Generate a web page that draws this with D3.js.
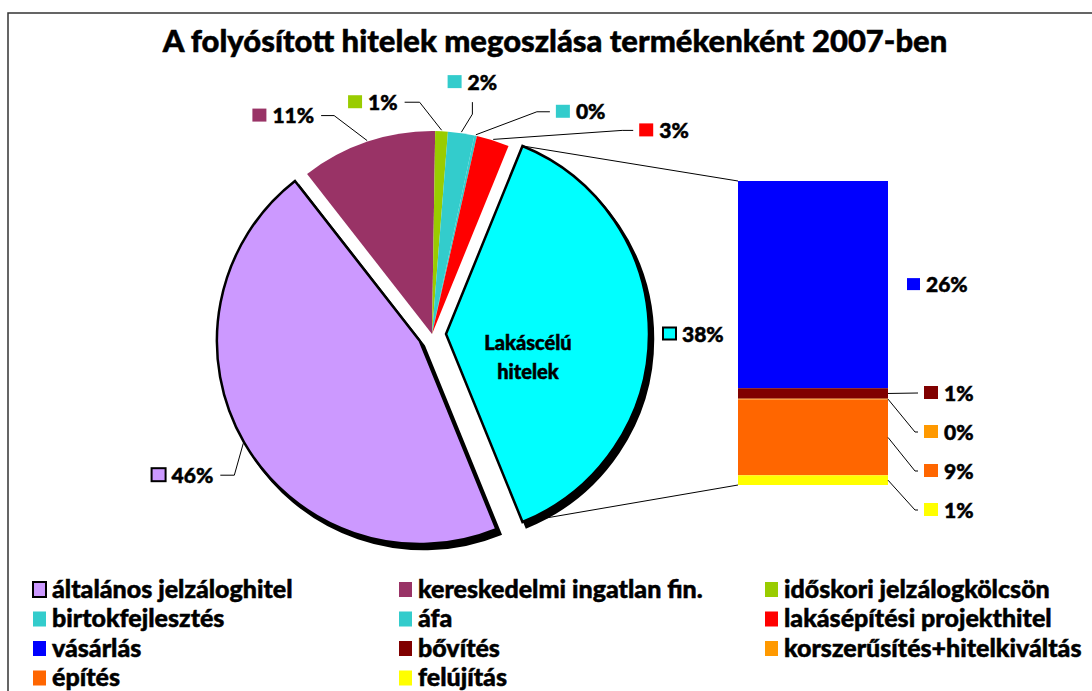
<!DOCTYPE html>
<html>
<head>
<meta charset="utf-8">
<script src="https://cdn.jsdelivr.net/npm/d3@7/dist/d3.min.js"></script>
<style>
  body { margin: 0; background: #fff; }
  svg { display: block; font-family: Lato, "DejaVu Sans", sans-serif; font-weight: 900; }
  svg text { stroke: #000; stroke-width: 0.5; paint-order: stroke; }
</style>
</head>
<body>
<div id="chart"></div>
<script>
// pie slices (rest of the housing slice is broken out in the bar)
const pieCategories = ['általános jelzáloghitel', 'kereskedelmi ingatlan fin.', 'időskori jelzálogkölcsön',
  'birtokfejlesztés', 'áfa', 'lakásépítési projekthitel'];
const pieValues = [45.6, 10.8, 1.0, 2.1, 0.2, 2.6];
const pieColors = ['#CC99FF', '#993366', '#99CC00', '#33CCCC', '#33CCCC', '#FF0000'];

const housingName = 'Lakáscélú hitelek';
const housingColor = '#00FFFF';

const barCategories = ['vásárlás', 'bővítés', 'korszerűsítés+hitelkiváltás', 'építés', 'felújítás'];
const barValues = [25.7, 1.3, 0.1, 9.4, 1.2];
const barColors = ['#0000FF', '#800000', '#FF9900', '#FF6600', '#FFFF00'];

const legendOrder = ['általános jelzáloghitel', 'kereskedelmi ingatlan fin.', 'időskori jelzálogkölcsön',
  'birtokfejlesztés', 'áfa', 'lakásépítési projekthitel',
  'vásárlás', 'bővítés', 'korszerűsítés+hitelkiváltás',
  'építés', 'felújítás'];

const title = 'A folyósított hitelek megoszlása termékenként 2007-ben';

// layout
const W = 1092, H = 691;
const cx = 432, cy = 334, R = 203, explode = 14;
const pct = v => Math.round(v) + '%';

// leader line offsets from the slice anchor: elbow, then end
const pieLabelLayout = [
  { elbow: [-9, 32], end: [-23, 32], side: 'left' },
  { elbow: [-33, -25], end: [-46, -25], side: 'left' },
  { elbow: [-22, -28], end: [-37, -28], side: 'left' },
  { elbow: [11, -18], end: [11, -30], side: 'top' },
  { elbow: [61, -23], end: [74, -23], side: 'right' },
  { elbow: [129, -9], end: [140, -9], side: 'right' }
];
const barLabelY = [null, 393, 432, 471, 510];

const svg = d3.select('#chart').append('svg')
  .attr('width', W)
  .attr('height', H);

svg.append('rect')
  .attr('x', 8).attr('y', 13)
  .attr('width', 1120).attr('height', 720)
  .attr('fill', '#fff')
  .attr('stroke', '#333')
  .attr('stroke-width', 1.5);

svg.append('text')
  .text(title)
  .attr('x', 555).attr('y', 41)
  .attr('dy', '0.35em')
  .attr('text-anchor', 'middle')
  .attr('font-size', 31);

// pie
const housingTotal = d3.sum(barValues);
const total = housingTotal + d3.sum(pieValues);
const start = Math.PI / 2 - (housingTotal / total) * Math.PI;

const sliceData = [{ name: housingName, value: housingTotal, color: housingColor, housing: true }]
  .concat(pieCategories.map((c, i) => ({ name: c, value: pieValues[i], color: pieColors[i], idx: i })));

const pie = d3.pie()
  .value(d => d.value)
  .sort(null)
  .startAngle(start)
  .endAngle(start + 2 * Math.PI);

const arc = d3.arc().innerRadius(0).outerRadius(R);
const arcs = pie(sliceData);

function offsetOf(d) {
  if (!(d.data.housing || d.data.idx === 0)) return [0, 0];
  const mid = (d.startAngle + d.endAngle) / 2;
  return [Math.sin(mid) * explode, -Math.cos(mid) * explode];
}
const outlined = d => d.data.housing || d.data.idx === 0;

const pieG = svg.append('g').attr('transform', `translate(${cx},${cy})`);

// shadows
pieG.selectAll('path.shadow')
  .data(arcs.filter(outlined))
  .enter().append('path')
  .attr('class', 'shadow')
  .attr('d', arc)
  .attr('fill', '#000')
  .attr('stroke', '#000')
  .attr('stroke-width', 2.5)
  .attr('transform', d => {
    const o = offsetOf(d);
    return `translate(${o[0] + 4},${o[1] + 5})`;
  });

pieG.selectAll('path.slice')
  .data(arcs)
  .enter().append('path')
  .attr('class', 'slice')
  .attr('d', arc)
  .attr('fill', d => d.data.color)
  .attr('stroke', d => outlined(d) ? '#000' : 'none')
  .attr('stroke-width', 2.5)
  .attr('stroke-linejoin', 'miter')
  .attr('transform', d => `translate(${offsetOf(d)})`);

function anchorOf(d, r) {
  const mid = (d.startAngle + d.endAngle) / 2;
  const o = offsetOf(d);
  return [cx + o[0] + Math.sin(mid) * r, cy + o[1] - Math.cos(mid) * r];
}

// label: square key + percent text
function drawLabel(x, y, txt, color, side, boxed, sq) {
  sq = sq || 14;
  const g = svg.append('g');
  const t = g.append('text')
    .text(txt)
    .attr('font-size', 21)
    .attr('dy', '0.36em');
  const tw = t.node().getComputedTextLength();
  let sx;
  if (side === 'left') sx = x - 7 - tw - 6 - sq;
  else if (side === 'top') { sx = x - (sq + 6 + tw) / 2; y = y - 20; }
  else sx = x + 6;
  g.insert('rect', 'text')
    .attr('x', sx).attr('y', y - sq / 2)
    .attr('width', sq).attr('height', sq - 1)
    .attr('fill', color)
    .attr('stroke', boxed ? '#000' : 'none')
    .attr('stroke-width', 2);
  t.attr('x', sx + sq + 6).attr('y', y);
}

const lineGen = d3.line();

arcs.filter(d => !d.data.housing).forEach(d => {
  const L = pieLabelLayout[d.data.idx];
  const a = anchorOf(d, R + 1);
  const pts = [a, [a[0] + L.elbow[0], a[1] + L.elbow[1]], [a[0] + L.end[0], a[1] + L.end[1]]];
  svg.append('path')
    .attr('d', lineGen(pts))
    .attr('fill', 'none')
    .attr('stroke', '#000')
    .attr('stroke-width', 1);
  drawLabel(pts[2][0], pts[2][1], pct(d.data.value), d.data.color, L.side, d.data.idx === 0);
});

// housing slice label + inner name
const hArc = arcs.find(d => d.data.housing);
const ha = anchorOf(hArc, R);
drawLabel(ha[0] + 8, ha[1], pct(hArc.data.value), housingColor, 'right', true, 13);

const nameWords = ['Lakáscélú', 'hitelek'];
svg.append('text')
  .attr('x', 528).attr('y', 343)
  .attr('text-anchor', 'middle')
  .attr('font-size', 20)
  .selectAll('tspan')
  .data(nameWords)
  .enter().append('tspan')
  .attr('x', 528)
  .attr('dy', (d, i) => i === 0 ? '0.35em' : '1.45em')
  .text(d => d);

// bar of pie
const barX = 738, barW = 150, barTop = 181, barBottom = 485;
const y = d3.scaleLinear().domain([0, housingTotal]).range([barTop, barBottom]);
const stacked = [];
let acc = 0;
barValues.forEach((v, i) => {
  stacked.push({ name: barCategories[i], value: v, color: barColors[i], y0: acc, y1: acc + v });
  acc += v;
});

svg.selectAll('rect.seg')
  .data(stacked)
  .enter().append('rect')
  .attr('class', 'seg')
  .attr('x', barX)
  .attr('y', d => y(d.y0))
  .attr('width', barW)
  .attr('height', d => y(d.y1) - y(d.y0))
  .attr('fill', d => d.color);

// connector lines pie -> bar
const hOff = offsetOf(hArc);
const topCorner = [cx + hOff[0] + Math.sin(hArc.startAngle) * R, cy + hOff[1] - Math.cos(hArc.startAngle) * R];
const botCorner = [cx + hOff[0] + Math.sin(hArc.endAngle) * R, cy + hOff[1] - Math.cos(hArc.endAngle) * R];
svg.append('path')
  .attr('d', lineGen([topCorner, [barX, y(0)]]))
  .attr('stroke', '#000').attr('stroke-width', 1).attr('fill', 'none');
svg.append('path')
  .attr('d', lineGen([botCorner, [barX, y(housingTotal)]]))
  .attr('stroke', '#000').attr('stroke-width', 1).attr('fill', 'none');

stacked.forEach((d, i) => {
  const mid = y((d.y0 + d.y1) / 2);
  const bx = barX + barW;
  if (barLabelY[i] === null) {
    drawLabel(bx + 13, mid, pct(d.value), d.color, 'right', false, 13);
    return;
  }
  const ly = barLabelY[i];
  const pts = Math.abs(ly - mid) < 2
    ? [[bx, mid], [bx + 30, ly]]
    : [[bx, mid], [bx + 27, ly], [bx + 30, ly]];
  svg.append('path')
    .attr('d', lineGen(pts))
    .attr('fill', 'none').attr('stroke', '#000').attr('stroke-width', 1);
  drawLabel(bx + 30, ly, pct(d.value), d.color, 'right', false);
});

// legend
const colorOf = {};
pieCategories.forEach((c, i) => colorOf[c] = pieColors[i]);
barCategories.forEach((c, i) => colorOf[c] = barColors[i]);

const legend = svg.append('g');
legendOrder.forEach((name, i) => {
  const col = i % 3, row = Math.floor(i / 3);
  const lx = 33 + col * 366, ly = 589 + row * 29.5;
  legend.append('rect')
    .attr('x', lx).attr('y', ly - 7)
    .attr('width', 13).attr('height', 15)
    .attr('fill', colorOf[name])
    .attr('stroke', name === pieCategories[0] ? '#000' : 'none')
    .attr('stroke-width', 2);
  legend.append('text')
    .text(name)
    .attr('x', lx + 19).attr('y', ly)
    .attr('dy', '0.35em')
    .attr('font-size', 25);
});
</script>
</body>
</html>
